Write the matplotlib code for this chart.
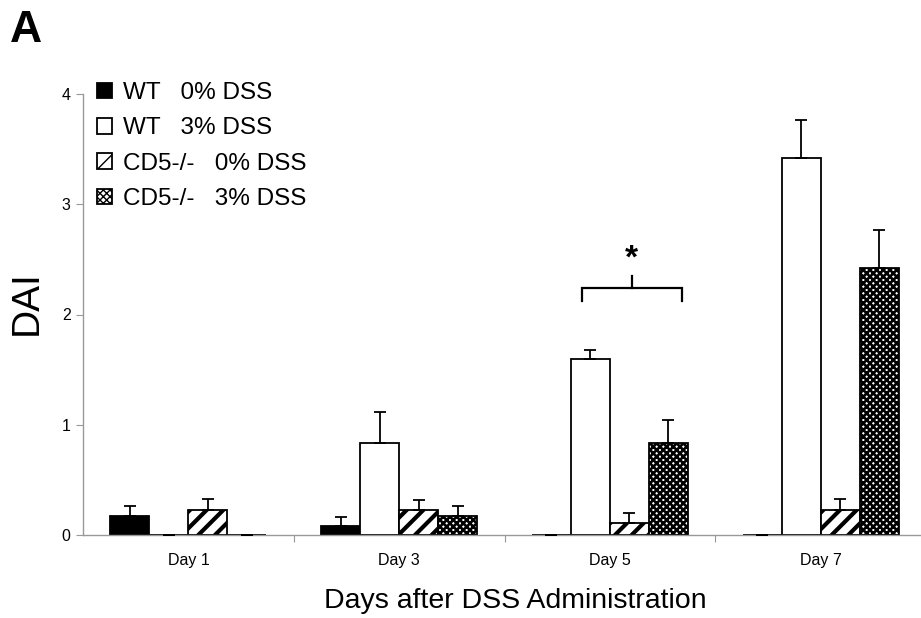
import matplotlib
matplotlib.use("Agg")
import matplotlib.pyplot as plt
import numpy as np

plt.rcParams['font.family'] = ['Liberation Sans', 'DejaVu Sans']

days = ["Day 1", "Day 3", "Day 5", "Day 7"]
series_labels = ["WT   0% DSS", "WT   3% DSS", "CD5-/-   0% DSS", "CD5-/-   3% DSS"]
wt0 = [0.17, 0.08, 0.0, 0.0]
wt0_err = [0.09, 0.08, 0.0, 0.0]
wt3 = [0.0, 0.83, 1.60, 3.42]
wt3_err = [0.0, 0.29, 0.08, 0.34]
cd0 = [0.23, 0.23, 0.11, 0.23]
cd0_err = [0.10, 0.09, 0.09, 0.10]
cd3 = [0.0, 0.17, 0.83, 2.42]
cd3_err = [0.0, 0.09, 0.21, 0.35]
yticks = [0, 1, 2, 3, 4]

W, H = 921, 618
fig = plt.figure(figsize=(W/100, H/100), dpi=100)
ax = fig.add_axes([83/W, 83/H, (926-83)/W, (535-94)/H])

x = np.arange(len(days))
w = 39/211
styles = [
    dict(facecolor='black', hatch=None, hlw=1.0),
    dict(facecolor='white', hatch=None, hlw=1.0),
    dict(facecolor='white', hatch='//', hlw=3.0),
    dict(facecolor='white', hatch='xxxxx', hlw=1.9),
]
vals = [wt0, wt3, cd0, cd3]
errs = [wt0_err, wt3_err, cd0_err, cd3_err]
handles = []
for i, (v, e, st) in enumerate(zip(vals, errs, styles)):
    pos = x + (i - 1.5) * w
    with plt.rc_context({'hatch.linewidth': st['hlw']}):
        bars = ax.bar(pos, v, width=w, facecolor=st['facecolor'], edgecolor='black',
                      linewidth=1.3, hatch=st['hatch'], label=series_labels[i], zorder=2)
        for b in bars:
            if hasattr(b, 'set_hatch_linewidth'):
                b.set_hatch_linewidth(st['hlw'])
    ax.errorbar(pos, v, yerr=[np.zeros(len(v)), e], fmt='none', ecolor='black',
                elinewidth=1.3, capsize=4, capthick=1.3, zorder=3)
    handles.append(bars)

ax.set_xlim(-0.5, 3.5)
ax.set_ylim(0, 4)
ax.set_yticks(yticks)
ax.set_yticklabels([str(t) for t in yticks], fontsize=11.5)
ax.set_xticks([0.5, 1.5, 2.5, 3.5])
ax.set_xticklabels([])
ax.set_xticks(x, minor=True)
ax.set_xticklabels(days, minor=True, fontsize=11.5)
ax.tick_params(axis='x', which='minor', length=0, pad=13)
ax.tick_params(axis='x', which='major', length=5, color='#999999', direction='out')
ax.tick_params(axis='y', length=5, color='#999999', direction='out', pad=4)
for s in ['top', 'right']:
    ax.spines[s].set_visible(False)
for s in ['left', 'bottom']:
    ax.spines[s].set_color('#999999')
    ax.spines[s].set_linewidth(1.0)

ax.set_ylabel("DAI", fontsize=28)
ax.yaxis.set_label_coords(-0.045, 0.528)
ax.set_xlabel("Days after DSS Administration", fontsize=20.5)
ax.xaxis.set_label_coords(0.513, -0.12)

# significance bracket on Day 5
bx0 = 2 - 0.72*w
bx1 = 2 + 1.85*w
by, bdrop, btop = 2.24, 2.12, 2.35
ax.plot([bx0, bx0, bx1, bx1], [bdrop, by, by, bdrop], color='black', lw=1.6,
        solid_joinstyle='miter', zorder=4)
bmid = (bx0 + bx1) / 2
ax.plot([bmid, bmid], [by, btop], color='black', lw=1.6, zorder=4)
ax.text(bmid, 2.5, "*", ha='center', va='center', fontsize=24, fontweight='bold')

leg = ax.legend(handles=handles, labels=series_labels, loc='upper left',
                bbox_to_anchor=(97/W, 1 - 82/H), bbox_transform=fig.transFigure,
                frameon=False, fontsize=17.5, handlelength=0.6, handleheight=0.6,
                handletextpad=0.45, labelspacing=0.55, borderpad=0, borderaxespad=0)

fig.text(10/W, 1 - 42/H, "A", fontsize=32, fontweight='bold', ha='left', va='baseline')

fig.savefig("out.png", dpi=100)
